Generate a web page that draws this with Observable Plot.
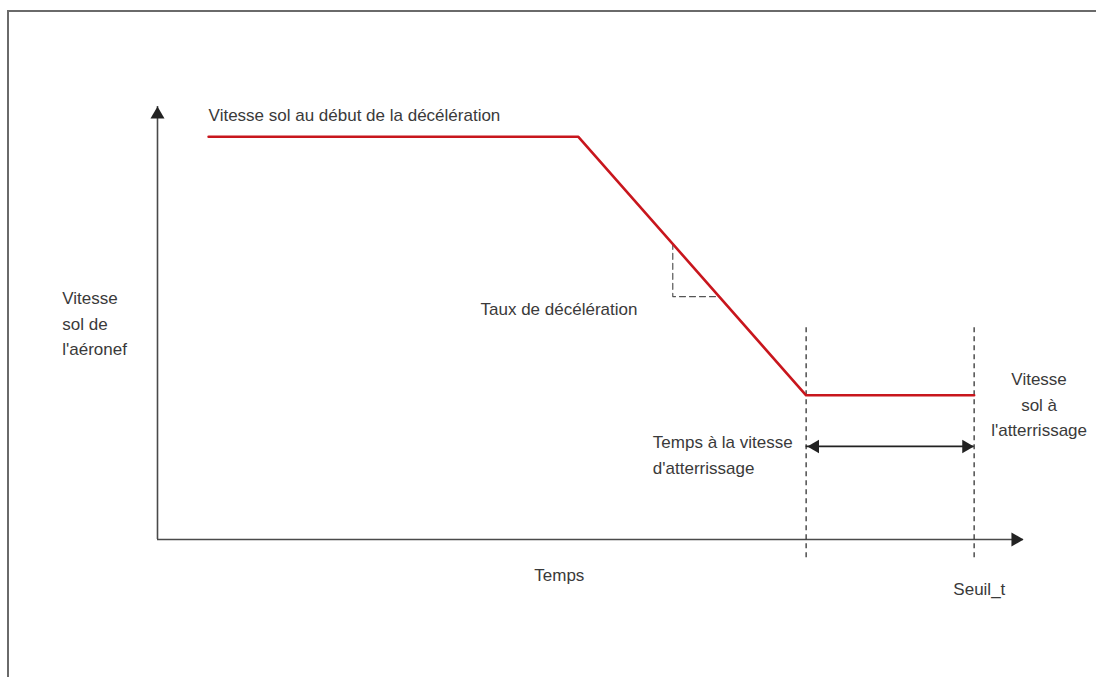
<!DOCTYPE html>
<html>
<head>
<meta charset="utf-8">
<script src="https://cdn.jsdelivr.net/npm/d3@7"></script>
<script src="https://cdn.jsdelivr.net/npm/@observablehq/plot@0.6"></script>
<style>
html, body { margin: 0; padding: 0; background: #fff; overflow: hidden; width: 1096px; height: 677px; }
#frame { position: absolute; left: 7px; top: 10px; width: 1300px; height: 900px; border: 2px solid #6a6a6a; box-sizing: border-box; }
#chart { position: absolute; left: 0; top: 0; }
</style>
</head>
<body>
<div id="frame"></div>
<div id="chart"></div>
<script>
// Ground-speed profile (arbitrary units)
const profileTime  = [5.9, 48.6, 74.9, 94.3];
const profileSpeed = [93, 93, 33.3, 33.3];

// Dashed vertical guides (start of landing speed, Seuil_t)
const guideTimes = [74.9, 94.3];
const guideLow = -4.2;
const guideHigh = 49.4;

// Dashed slope triangle (deceleration rate)
const triTime  = [59.5, 59.5, 64.9];
const triSpeed = [68.4, 56.1, 56.1];

// Double arrow "time at landing speed"
const spanStart = 74.9;
const spanEnd = 94.3;
const spanSpeed = 21.5;

// Axes extent
const axisMax = 100;

// Labels anchored at their start
const startTexts = ["Vitesse sol au début de la décélération", "Vitesse\nsol de\nl'aéronef", "Taux de décélération", "Temps à la vitesse\nd'atterrissage"];
const startX = [5.9, -11.0, 37.3, 57.2];
const startY = [98.6, 50.3, 53.8, 20.0];

// Labels anchored at their middle
const midTexts = ["Vitesse\nsol à\nl'atterrissage", "Temps", "Seuil_t"];
const midX = [101.8, 46.4, 94.9];
const midY = [31.6, -7.6, -10.9];

const profile = profileTime.map((t, i) => ({t, v: profileSpeed[i]}));
const tri = triTime.map((t, i) => ({t, v: triSpeed[i]}));
const startLabels = startTexts.map((s, i) => ({s, x: startX[i], y: startY[i]}));
const midLabels = midTexts.map((s, i) => ({s, x: midX[i], y: midY[i]}));

const font = "'Liberation Sans', Arial, sans-serif";
const textColor = "#3a3a3a";
const axisColor = "#4a4a4a";

const chart = Plot.plot({
  width: 1096,
  height: 677,
  marginLeft: 157,
  marginRight: 73,
  marginTop: 106,
  marginBottom: 138,
  x: {domain: [0, axisMax], axis: null},
  y: {domain: [0, axisMax], axis: null},
  style: {background: "transparent", overflow: "visible", fontFamily: font},
  marks: [
    // axes
    Plot.ruleX([0], {y1: 0, y2: axisMax, stroke: axisColor, strokeWidth: 1.6}),
    Plot.ruleY([0], {x1: 0, x2: axisMax, stroke: axisColor, strokeWidth: 1.6}),
    Plot.dot([{x: 0, y: axisMax}], {x: "x", y: "y", symbol: "triangle", r: 5.2, fill: "#222", stroke: "none", dy: 8}),
    Plot.dot([{x: axisMax, y: 0}], {x: "x", y: "y", symbol: "triangle", r: 5.2, fill: "#222", stroke: "none", rotate: 90, dx: -8}),
    // dashed guides
    Plot.ruleX(guideTimes, {y1: guideLow, y2: guideHigh, stroke: "#333", strokeWidth: 1.3, strokeDasharray: "5,4"}),
    // slope triangle
    Plot.line(tri, {x: "t", y: "v", stroke: "#555", strokeWidth: 1.2, strokeDasharray: "6,4"}),
    // speed profile
    Plot.line(profile, {x: "t", y: "v", stroke: "#c8161d", strokeWidth: 2.6}),
    // double arrow
    Plot.ruleY([spanSpeed], {x1: spanStart, x2: spanEnd, stroke: "#222", strokeWidth: 1.6, dx: 0}),
    Plot.dot([{x: spanStart, y: spanSpeed}], {x: "x", y: "y", symbol: "triangle", r: 5, fill: "#222", stroke: "none", rotate: -90, dx: 9}),
    Plot.dot([{x: spanEnd, y: spanSpeed}], {x: "x", y: "y", symbol: "triangle", r: 5, fill: "#222", stroke: "none", rotate: 90, dx: -8}),
    // labels
    Plot.text(startLabels, {x: "x", y: "y", text: "s", textAnchor: "start", lineAnchor: "middle", lineHeight: 1.5, fontSize: 17, fill: textColor, fontFamily: font}),
    Plot.text(midLabels, {x: "x", y: "y", text: "s", textAnchor: "middle", lineAnchor: "middle", lineHeight: 1.5, fontSize: 17, fill: textColor, fontFamily: font})
  ]
});
document.getElementById("chart").appendChild(chart);
</script>
</body>
</html>
